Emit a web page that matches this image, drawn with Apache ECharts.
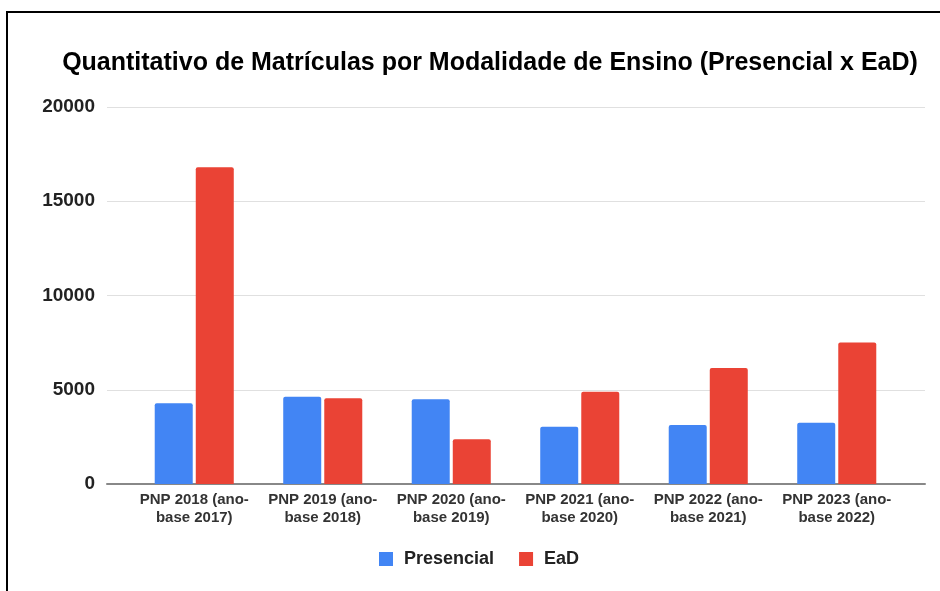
<!DOCTYPE html>
<html>
<head>
<meta charset="utf-8">
<script src="https://cdn.jsdelivr.net/npm/echarts@6/dist/echarts.min.js"></script>
<style>
  html, body { margin: 0; padding: 0; background: #fff; }
  #chart { width: 940px; height: 591px; }
</style>
</head>
<body>
<div id="chart"></div>
<script>
  const categories = [
    'PNP 2018 (ano-\nbase 2017)',
    'PNP 2019 (ano-\nbase 2018)',
    'PNP 2020 (ano-\nbase 2019)',
    'PNP 2021 (ano-\nbase 2020)',
    'PNP 2022 (ano-\nbase 2021)',
    'PNP 2023 (ano-\nbase 2022)'
  ]
  const presencial = [4280, 4630, 4490, 3040, 3130, 3250]
  const ead = [16800, 4550, 2370, 4900, 6150, 7510]
  const yTicks = [0, 5000, 10000, 15000, 20000]

  const FONT = 'Liberation Sans, Arial, sans-serif'
  const chart = echarts.init(document.getElementById('chart'))

  chart.setOption({
    animation: false,
    title: {
      text: 'Quantitativo de Matrículas por Modalidade de Ensino (Presencial x EaD)',
      left: 485,
      textAlign: 'center',
      top: 46,
      textStyle: { fontFamily: FONT, fontSize: 25, fontWeight: 'bold', color: '#000' }
    },
    legend: {
      data: ['Presencial', 'EaD'],
      top: 545,
      left: 374,
      icon: 'rect',
      itemWidth: 14,
      itemHeight: 14,
      itemGap: 25,
      textStyle: { fontFamily: FONT, fontSize: 18, fontWeight: 'bold', color: '#222', padding: [0, 0, 0, 6] }
    },
    grid: [
      { left: 107, right: 15, top: 107, bottom: 107 },
      { left: 130, right: 39, top: 107, bottom: 107 }
    ],
    xAxis: [
      {
        type: 'category', gridIndex: 0, data: [''],
        axisLine: { lineStyle: { color: '#888', width: 2 } },
        axisTick: { show: false }, axisLabel: { show: false }
      },
      {
        type: 'category', gridIndex: 1, data: categories,
        axisLine: { show: false }, axisTick: { show: false },
        axisLabel: {
          fontFamily: FONT, fontSize: 15, fontWeight: 'bold', color: '#333',
          lineHeight: 18, margin: 7, interval: 0
        }
      }
    ],
    yAxis: [
      {
        type: 'value', gridIndex: 0, min: yTicks[0], max: yTicks[yTicks.length - 1], interval: 5000,
        axisLine: { show: false }, axisTick: { show: false },
        axisLabel: {
          fontFamily: FONT, fontSize: 19, fontWeight: 'bold', color: '#222', margin: 12,
          formatter: v => String(v)
        },
        splitLine: { lineStyle: { color: '#e0e0e0', width: 1 } }
      },
      {
        type: 'value', gridIndex: 1, min: yTicks[0], max: yTicks[yTicks.length - 1], interval: 5000,
        show: false, splitLine: { show: false }
      }
    ],
    series: [
      {
        name: 'Presencial', type: 'bar', xAxisIndex: 1, yAxisIndex: 1,
        data: presencial, barWidth: 38, barGap: '8%',
        itemStyle: { color: '#4285F4', borderRadius: [2, 2, 0, 0] }
      },
      {
        name: 'EaD', type: 'bar', xAxisIndex: 1, yAxisIndex: 1,
        data: ead, barWidth: 38, barGap: '8%',
        itemStyle: { color: '#EA4335', borderRadius: [2, 2, 0, 0] }
      }
    ],
    graphic: [
      { type: 'line', shape: { x1: 6, y1: 12, x2: 940, y2: 12 }, style: { stroke: '#000', lineWidth: 2 } },
      { type: 'line', shape: { x1: 7, y1: 11, x2: 7, y2: 591 }, style: { stroke: '#000', lineWidth: 2 } }
    ]
  })
</script>
</body>
</html>
